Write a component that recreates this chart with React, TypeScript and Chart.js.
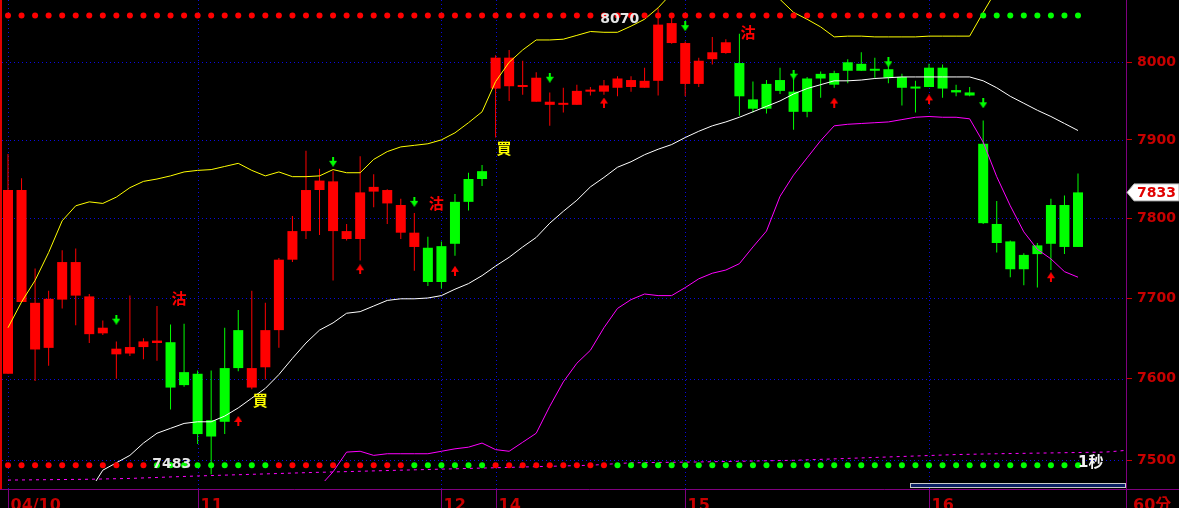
import React, { useEffect, useRef } from "react";
import { Chart, registerables } from "chart.js";

Chart.register(...registerables);

// ---------- data ----------
const dayStarts = [0, 14, 32, 36, 50, 68];
const dayLabels = ["04/10", "11", "12", "14", "15", "16"];
const periodLabel = "60分";
const speedLabel = "1秒";
const yTicks = [7500, 7600, 7700, 7800, 7900, 8000];

const opens = [
  7606, 7695, 7636, 7638, 7698, 7703, 7655, 7656, 7630, 7631,
  7639, 7644, 7645, 7608, 7606, 7549, 7613, 7660, 7589, 7614,
  7660, 7748, 7784, 7836, 7784, 7774, 7774, 7834, 7819, 7782,
  7764, 7763, 7765, 7821, 7850, 7860, 7966, 7969, 7968, 7949,
  7945, 7945, 7945, 7962, 7962, 7967, 7968, 7967, 7976, 8025,
  7972, 7972, 8004, 8012, 7999, 7952, 7972, 7977, 7962, 7979,
  7985, 7986, 8000, 7998, 7990, 7991, 7981, 7967, 7993, 7993,
  7964, 7961, 7895, 7793, 7771, 7754, 7766, 7817, 7817, 7764,
];
const highs = [
  7882, 7851, 7737, 7709, 7760, 7762, 7705, 7672, 7646, 7703,
  7650, 7690, 7667, 7668, 7610, 7610, 7663, 7685, 7709, 7694,
  7750, 7803, 7886, 7863, 7860, 7793, 7879, 7856, 7837, 7825,
  7807, 7777, 7771, 7831, 7858, 7868, 8009, 8016, 8002, 7987,
  7961, 7967, 7971, 7968, 7977, 7982, 7982, 7993, 8070, 8058,
  8027, 8006, 8033, 8030, 8037, 7975, 7977, 7993, 7990, 7981,
  7988, 7989, 8004, 8013, 8006, 7996, 7985, 7976, 7998, 7997,
  7971, 7968, 7925, 7822, 7772, 7756, 7769, 7825, 7829, 7857,
];
const lows = [
  7606, 7695, 7597, 7616, 7687, 7666, 7644, 7654, 7600, 7628,
  7624, 7622, 7562, 7590, 7520, 7483, 7532, 7609, 7587, 7599,
  7638, 7745, 7774, 7779, 7722, 7772, 7747, 7814, 7793, 7774,
  7734, 7715, 7712, 7753, 7810, 7841, 7903, 7950, 7958, 7949,
  7918, 7935, 7945, 7957, 7958, 7956, 7962, 7967, 7957, 8024,
  7956, 7968, 7997, 8011, 7931, 7935, 7934, 7959, 7913, 7929,
  7954, 7967, 7973, 7989, 7980, 7973, 7944, 7935, 7968, 7954,
  7956, 7956, 7793, 7757, 7726, 7716, 7713, 7735, 7755, 7764,
];
const closes = [
  7836, 7836, 7694, 7699, 7745, 7745, 7702, 7663, 7637, 7639,
  7646, 7647, 7589, 7592, 7532, 7529, 7547, 7613, 7613, 7660,
  7748, 7784, 7836, 7848, 7847, 7784, 7833, 7840, 7836, 7817,
  7782, 7720, 7720, 7768, 7821, 7850, 8006, 8006, 7970, 7980,
  7949, 7946, 7963, 7963, 7970, 7979, 7977, 7976, 8049, 8051,
  8025, 8002, 8013, 8026, 7956, 7940, 7940, 7963, 7936, 7936,
  7979, 7971, 7989, 7989, 7989, 7980, 7967, 7966, 7968, 7966,
  7961, 7957, 7794, 7769, 7736, 7736, 7755, 7768, 7764, 7833,
];

const upperBand = [
  7663, 7695, 7722, 7757, 7797, 7816, 7821, 7819, 7827, 7839,
  7847, 7850, 7854, 7859, 7861, 7862, 7866, 7870, 7861, 7854,
  7859, 7853, 7853, 7854, 7862, 7858, 7858, 7875, 7885, 7891,
  7893, 7895, 7900, 7909, 7922, 7936, 7975, 8000, 8016, 8029,
  8029, 8030, 8035, 8040, 8039, 8039, 8047, 8056, 8071, 8090,
  8105, 8112, 8115, 8112, 8108, 8100, 8092, 8082, 8065, 8056,
  8046, 8033, 8034, 8034, 8033, 8033, 8033, 8033, 8034, 8034,
  8034, 8034, 8065, 8095, 8120, 8138, 8150, 8157, 8160, 8162,
];
const midBand = [
  null, null, null, null, null, null, 7462, 7488, 7497, 7506,
  7521, 7533, 7539, 7545, 7547, 7547, 7554, 7564, 7576, 7588,
  7605, 7625, 7644, 7660, 7669, 7681, 7683, 7690, 7697, 7699,
  7699, 7700, 7703, 7711, 7718, 7728, 7740, 7751, 7764, 7776,
  7794, 7809, 7823, 7840, 7852, 7865, 7872, 7881, 7888, 7894,
  7903, 7911, 7918, 7923, 7929, 7936, 7943, 7950, 7959, 7966,
  7971, 7976, 7976, 7977, 7979, 7980, 7981, 7981, 7981, 7981,
  7981, 7981, 7976, 7967, 7956, 7947, 7938, 7930, 7921, 7912,
];
const lowerBand = [
  null, null, null, null, null, null, null, null, null, null,
  null, null, null, null, null, null, null, null, null, null,
  null, null, null, 7468, 7486, 7510, 7511, 7506, 7508, 7508,
  7508, 7508, 7511, 7514, 7516, 7521, 7513, 7511, 7522, 7533,
  7566, 7596, 7619, 7635, 7663, 7687, 7698, 7705, 7703, 7703,
  7713, 7724, 7731, 7735, 7743, 7764, 7784, 7828, 7855, 7877,
  7899, 7918, 7920, 7921, 7922, 7923, 7926, 7929, 7930, 7929,
  7929, 7927, 7897, 7853, 7816, 7783, 7761, 7749, 7733, 7726,
];
const floorIdx = [0, 6, 9, 14, 22, 29, 36, 43, 46, 51, 58, 70, 73, 81, 82.5];
const floorVal = [7476, 7477, 7478, 7481, 7485, 7488, 7491, 7494, 7497, 7498, 7500, 7507, 7508, 7510, 7512];

const topDotLevel = 8061;
const bottomDotLevel = 7494;
const topDotSegments: [number, string][] = [[0, "r"], [72, "g"]];
const bottomDotSegments: [number, string][] = [[0, "r"], [11, "g"], [20, "r"], [30, "g"], [36, "r"], [45, "g"]];

const sellSignals = [{ i: 12, p: 7700 }, { i: 31, p: 7819 }, { i: 54, p: 8039 }];
const buySignals = [{ i: 18, p: 7573 }, { i: 36, p: 7889 }];
const downArrows = [
  { i: 8, p: 7673 }, { i: 24, p: 7872 }, { i: 30, p: 7821 }, { i: 40, p: 7980 },
  { i: 50, p: 8047 }, { i: 58, p: 7984 }, { i: 65, p: 8000 }, { i: 72, p: 7947 },
];
const upArrows = [
  { i: 17, p: 7548 }, { i: 26, p: 7736 }, { i: 33, p: 7734 }, { i: 44, p: 7948 },
  { i: 61, p: 7948 }, { i: 68, p: 7952 }, { i: 77, p: 7726 },
];

// ---------- style ----------
const RED = "#ff0000";
const GREEN = "#00ff00";
const AXIS_RED = "#c80000";
const PURPLE = "#800080";
const GRID_BLUE = "#0a0ae0";
const X_MIN = -0.443;
const X_MAX = 82.544;
const Y_MIN = 7465.2;
const Y_MAX = 8081.2;
const LINE_CLIP = { left: 0, top: 0, right: 0, bottom: -8 };

function segColor(segs: [number, string][], i: number) {
  let c = segs[0][1];
  for (const [from, col] of segs) if (i >= from) c = col;
  return c === "r" ? RED : GREEN;
}

function candleColors(): string[] {
  const flips = [
    ...sellSignals.map((s) => ({ i: s.i, c: GREEN })),
    ...buySignals.map((s) => ({ i: s.i, c: RED })),
  ].sort((a, b) => a.i - b.i);
  const out: string[] = [];
  let c = RED;
  let k = 0;
  for (let i = 0; i < closes.length; i++) {
    while (k < flips.length && flips[k].i <= i) {
      c = flips[k].c;
      k++;
    }
    out.push(c);
  }
  return out;
}

function makeArrow(color: string, down: boolean) {
  const c = document.createElement("canvas");
  c.width = 8;
  c.height = 10;
  const g = c.getContext("2d")!;
  g.fillStyle = color;
  g.beginPath();
  if (down) {
    g.fillRect(3, 0, 2, 5);
    g.moveTo(0, 4);
    g.lineTo(8, 4);
    g.lineTo(4, 10);
  } else {
    g.fillRect(3, 5, 2, 5);
    g.moveTo(0, 6);
    g.lineTo(8, 6);
    g.lineTo(4, 0);
  }
  g.closePath();
  g.fill();
  return c;
}

const decorPlugin = {
  id: "decor",
  beforeDraw(chart: any) {
    const { ctx, width, height } = chart;
    ctx.save();
    ctx.fillStyle = "#000";
    ctx.fillRect(0, 0, width, height);
    ctx.restore();
  },
  beforeDatasetsDraw(chart: any) {
    const { ctx, chartArea: a, scales } = chart;
    const x = scales.x;
    const y = scales.y;
    ctx.save();
    ctx.strokeStyle = GRID_BLUE;
    ctx.lineWidth = 1;
    ctx.setLineDash([1, 3]);
    for (const v of yTicks) {
      const py = Math.round(y.getPixelForValue(v)) + 0.5;
      ctx.beginPath();
      ctx.moveTo(a.left, py);
      ctx.lineTo(a.right, py);
      ctx.stroke();
    }
    for (const d of dayStarts) {
      const px = Math.round(x.getPixelForValue(d)) + 0.5;
      ctx.beginPath();
      ctx.moveTo(px, a.top);
      ctx.lineTo(px, a.bottom);
      ctx.stroke();
    }
    ctx.restore();
  },
  afterDatasetsDraw(chart: any) {
    const { ctx, chartArea: a, scales } = chart;
    const x = scales.x;
    const y = scales.y;
    const W = chart.width;
    const H = chart.height;
    ctx.save();

    // buy / sell signal text
    ctx.textBaseline = "middle";
    ctx.textAlign = "left";
    ctx.font = 'bold 15px "Noto Sans CJK TC", "Noto Sans CJK SC", sans-serif';
    ctx.fillStyle = RED;
    for (const s of sellSignals) ctx.fillText("沽", x.getPixelForValue(s.i) + 1, y.getPixelForValue(s.p));
    ctx.fillStyle = "#ffff00";
    for (const s of buySignals) ctx.fillText("買", x.getPixelForValue(s.i) + 1, y.getPixelForValue(s.p));

    // highest / lowest labels
    let hi = 0;
    let lo = 0;
    for (let i = 0; i < highs.length; i++) {
      if (highs[i] > highs[hi]) hi = i;
      if (lows[i] < lows[lo]) lo = i;
    }
    ctx.font = 'bold 14px "DejaVu Sans"';
    ctx.fillStyle = "#e6e6e6";
    ctx.textAlign = "right";
    ctx.fillText(String(highs[hi]), x.getPixelForValue(hi) - 19, y.getPixelForValue(highs[hi]) + 11);
    ctx.fillText(String(lows[lo]), x.getPixelForValue(lo) - 20, y.getPixelForValue(lows[lo]) - 10);

    // frame
    ctx.fillStyle = "#e00000";
    ctx.fillRect(0, 0, 2, a.bottom);
    ctx.strokeStyle = PURPLE;
    ctx.lineWidth = 1;
    ctx.beginPath();
    ctx.moveTo(0, a.bottom + 0.5);
    ctx.lineTo(W, a.bottom + 0.5);
    ctx.stroke();
    ctx.beginPath();
    ctx.moveTo(a.right + 0.5, 0);
    ctx.lineTo(a.right + 0.5, H);
    ctx.stroke();

    // day ticks and labels
    ctx.font = 'bold 16px "DejaVu Sans", "Noto Sans CJK TC"';
    ctx.fillStyle = AXIS_RED;
    ctx.textAlign = "left";
    ctx.textBaseline = "alphabetic";
    dayStarts.forEach((d, k) => {
      const px = Math.round(x.getPixelForValue(d)) + 0.5;
      ctx.beginPath();
      ctx.moveTo(px, a.bottom);
      ctx.lineTo(px, H);
      ctx.stroke();
      ctx.fillText(dayLabels[k], px + 2, 510);
    });
    ctx.fillText(periodLabel, a.right + 7, 510);

    // scroll bar
    ctx.fillStyle = "#0b1f63";
    ctx.fillRect(a.right - 216, a.bottom - 6, 216, 5);
    ctx.strokeStyle = "#c8c8c8";
    ctx.strokeRect(a.right - 215.5, a.bottom - 5.5, 215, 4);

    // speed label
    ctx.font = 'bold 15px "DejaVu Sans", "Noto Sans CJK TC"';
    ctx.fillStyle = "#f4f4f4";
    ctx.textBaseline = "middle";
    ctx.fillText(speedLabel, a.right - 48, y.getPixelForValue(bottomDotLevel) - 2);

    // current price tag
    const last = closes[closes.length - 1];
    const py = y.getPixelForValue(last);
    ctx.beginPath();
    ctx.moveTo(a.right + 1, py);
    ctx.lineTo(a.right + 8, py - 8.5);
    ctx.lineTo(W, py - 8.5);
    ctx.lineTo(W, py + 8.5);
    ctx.lineTo(a.right + 8, py + 8.5);
    ctx.closePath();
    ctx.fillStyle = "#ffffff";
    ctx.fill();
    ctx.strokeStyle = "#b0b0b0";
    ctx.stroke();
    ctx.fillStyle = "#e00000";
    ctx.font = 'bold 14px "DejaVu Sans"';
    ctx.textAlign = "left";
    ctx.fillText(String(last), a.right + 11, py + 0.5);

    ctx.restore();
  },
};

export default function App() {
  const ref = useRef<HTMLCanvasElement | null>(null);

  useEffect(() => {
    document.body.style.margin = "0";
    document.body.style.background = "#000";
    if (!ref.current) return;
    const idx = closes.map((_, i) => i);
    const colors = candleColors();
    const downImg = makeArrow(GREEN, true);
    const upImg = makeArrow(RED, false);

    const chart = new Chart(ref.current, {
      type: "bar",
      data: {
        datasets: [
          {
            type: "scatter",
            data: downArrows.map((d) => ({ x: d.i, y: d.p })),
            pointStyle: downImg,
            pointRadius: 4,
            order: 0,
          } as any,
          {
            type: "scatter",
            data: upArrows.map((d) => ({ x: d.i, y: d.p })),
            pointStyle: upImg,
            pointRadius: 4,
            order: 0,
          } as any,
          {
            type: "scatter",
            data: idx.map((i) => ({ x: i, y: topDotLevel })),
            pointBackgroundColor: idx.map((i) => segColor(topDotSegments, i)),
            pointBorderWidth: 0,
            pointRadius: 3,
            order: 1,
          } as any,
          {
            type: "scatter",
            data: idx.map((i) => ({ x: i, y: bottomDotLevel })),
            pointBackgroundColor: idx.map((i) => segColor(bottomDotSegments, i)),
            pointBorderWidth: 0,
            pointRadius: 3,
            order: 1,
          } as any,
          {
            type: "line",
            data: upperBand.map((v, i) => ({ x: i, y: v })),
            borderColor: "#ffff00",
            borderWidth: 1,
            pointRadius: 0,
            tension: 0,
            order: 2,
            clip: LINE_CLIP,
          } as any,
          {
            type: "line",
            data: midBand.map((v, i) => ({ x: i, y: v })),
            borderColor: "#ffffff",
            borderWidth: 1,
            pointRadius: 0,
            tension: 0,
            order: 2,
            clip: LINE_CLIP,
          } as any,
          {
            type: "line",
            data: lowerBand.map((v, i) => ({ x: i, y: v })),
            borderColor: "#ff00ff",
            borderWidth: 1,
            pointRadius: 0,
            tension: 0,
            order: 2,
            clip: LINE_CLIP,
          } as any,
          {
            type: "line",
            data: floorIdx.map((v, k) => ({ x: v, y: floorVal[k] })),
            borderColor: "#ff00ff",
            borderWidth: 1,
            borderDash: [3, 4],
            pointRadius: 0,
            tension: 0,
            order: 2,
            clip: LINE_CLIP,
          } as any,
          {
            type: "bar",
            data: idx.map((i) => ({ x: i, y: [opens[i], closes[i]] })),
            backgroundColor: colors,
            borderWidth: 0,
            barThickness: 10,
            minBarLength: 2,
            grouped: false,
            inflateAmount: 0,
            order: 4,
          } as any,
          {
            type: "bar",
            data: idx.map((i) => ({ x: i, y: [lows[i], highs[i]] })),
            backgroundColor: colors,
            borderWidth: 0,
            barThickness: 1,
            grouped: false,
            inflateAmount: 0,
            order: 5,
          } as any,
        ],
      },
      options: {
        responsive: false,
        devicePixelRatio: 1,
        animation: false,
        events: [],
        layout: { autoPadding: false, padding: { left: 2, right: 0, top: 0, bottom: 19 } },
        plugins: { legend: { display: false }, tooltip: { enabled: false } },
        scales: {
          x: {
            type: "linear",
            display: false,
            min: X_MIN,
            max: X_MAX,
            offset: false,
          },
          y: {
            type: "logarithmic",
            position: "right",
            min: Y_MIN,
            max: Y_MAX,
            bounds: "data",
            border: { display: false },
            grid: {
              display: true,
              drawOnChartArea: false,
              drawTicks: true,
              tickLength: 6,
              color: AXIS_RED,
            },
            ticks: {
              color: AXIS_RED,
              font: { family: "DejaVu Sans", weight: "bold", size: 14 },
              padding: 5,
              autoSkip: false,
              callback: (v: any) => String(v),
            },
            afterBuildTicks: (s: any) => {
              s.ticks = yTicks.map((v) => ({ value: v }));
            },
            afterFit: (s: any) => {
              s.width = 53;
              s.paddingTop = 0;
              s.paddingBottom = 0;
            },
          } as any,
        },
      } as any,
      plugins: [decorPlugin],
    });
    return () => chart.destroy();
  }, []);

  return (
    <div style={{ width: 1179, height: 508, background: "#000" }}>
      <canvas ref={ref} width={1179} height={508} style={{ display: "block" }} />
    </div>
  );
}
